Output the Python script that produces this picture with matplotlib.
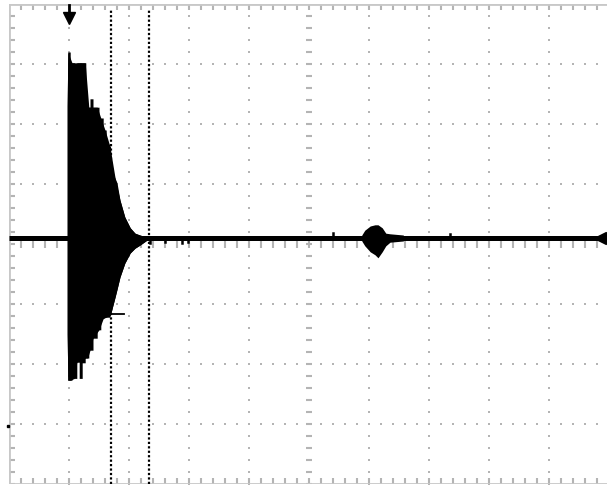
import numpy as np
import matplotlib
matplotlib.use('Agg')
from matplotlib import pyplot as plt
from matplotlib.collections import LineCollection

# screen: 10 x 8 divisions
n_xdiv = 10
n_ydiv = 8
baseline = 0.1          # trace offset (div)
trigger_pos = 1.0       # trigger marker (div)
cursor_a = 1.695        # time cursors (div)
cursor_b = 2.34
level_mark = -1.17      # level marker next to cursor a

# burst envelope, upper edge (div)
burst_up_x = [0.97, 0.98, 1.02, 1.02, 1.09, 1.09, 1.13, 1.13, 1.28, 1.28, 1.31, 1.31,
              1.35, 1.35, 1.40, 1.40, 1.50, 1.50, 1.57, 1.57, 1.62, 1.62, 1.69,
              1.71, 1.80, 1.85, 1.93, 2.02, 2.10, 2.18, 2.35]
burst_up_y = [2.30, 3.20, 3.20, 3.02, 3.02, 2.85, 2.85, 3.02, 3.02, 1.40, 1.40, 2.28,
              2.28, 2.42, 2.42, 2.28, 2.28, 2.10, 2.10, 1.90, 1.90, 1.72, 1.62,
              1.23, 1.02, 0.73, 0.45, 0.27, 0.18, 0.15, 0.10]
# burst envelope, lower edge (div)
burst_lo_x = [0.97, 0.98, 1.05, 1.05, 1.08, 1.08, 1.13, 1.13, 1.17, 1.17, 1.22, 1.22,
              1.27, 1.27, 1.33, 1.33, 1.40, 1.40, 1.47, 1.47, 1.53, 1.53, 1.60,
              1.68, 1.77, 1.85, 1.93, 2.02, 2.10, 2.18, 2.35]
burst_lo_y = [-1.50, -2.27, -2.27, -1.97, -1.97, -2.24, -2.24, -1.97, -1.97, -2.24,
              -2.24, -1.98, -1.98, -1.90, -1.90, -1.77, -1.77, -1.57, -1.57, -1.43,
              -1.43, -1.27, -1.22, -1.22, -0.88, -0.55, -0.32, -0.15, -0.07, -0.02, 0.10]

# echo blob near 6.2 div
echo_x = [5.88, 5.93, 6.02, 6.10, 6.15, 6.22, 6.28, 6.35, 6.57, 6.60]
echo_up = [0.15, 0.23, 0.30, 0.32, 0.32, 0.27, 0.18, 0.17, 0.15, 0.10]
echo_lo = [0.05, -0.03, -0.13, -0.18, -0.23, -0.13, -0.03, 0.03, 0.05, 0.10]

# small spikes on the trace: position, excursion
blip_x = [2.35, 2.60, 2.88, 2.98, 5.40, 7.35]
blip_h = [-0.08, -0.07, -0.08, -0.07, 0.08, 0.06]

fig = plt.figure(figsize=(6.07, 4.86), dpi=100)
ax = fig.add_axes([9 / 607, 2 / 486, 600 / 607, 480 / 486])
ax.set_xlim(0, n_xdiv)
ax.set_ylim(-n_ydiv / 2, n_ydiv / 2)
ax.axis('off')

grid_c = '#b4b4b4'
minor = np.arange(0, n_xdiv + 0.01, 0.2)
minor_y = np.arange(-n_ydiv / 2, n_ydiv / 2 + 0.01, 0.2)

# dotted graticule
gx, gy = [], []
for xv in range(1, n_xdiv):
    if xv == 5:
        continue
    gx += [xv] * len(minor_y)
    gy += list(minor_y)
for yv in range(-3, 4):
    if yv == 0:
        continue
    gx += list(minor)
    gy += [yv] * len(minor)
ax.scatter(gx, gy, s=2.2, marker='s', color=grid_c, linewidths=0, zorder=1)

# border and tick marks
segs = []
for xv in minor:
    segs.append([(xv, 4), (xv, 3.9)])
    segs.append([(xv, -4), (xv, -3.9)])
    segs.append([(xv, -0.07), (xv, 0.07)])
for yv in minor_y:
    segs.append([(0, yv), (0.1, yv)])
    segs.append([(4.95, yv), (5.05, yv)])
ax.add_collection(LineCollection(segs, colors=grid_c, linewidths=1.5, zorder=1))
ax.plot([0, 0], [-4, 4], color='#c8c8c8', lw=2, zorder=1)
ax.plot([0, 10], [4, 4], color='#c8c8c8', lw=2, zorder=1)
ax.plot([0, 10], [-4, -4], color='#c8c8c8', lw=2, zorder=1)

# trace
ax.plot([0, n_xdiv], [baseline, baseline], color='black', lw=3.6,
        solid_capstyle='butt', zorder=3)
ax.fill_between(burst_up_x, burst_up_y, np.interp(burst_up_x, burst_lo_x, burst_lo_y),
                color='black', lw=0, zorder=3)
ax.fill_between(burst_lo_x, np.interp(burst_lo_x, burst_up_x, burst_up_y), burst_lo_y,
                color='black', lw=0, zorder=3)
ax.fill_between(echo_x, echo_up, echo_lo, color='black', lw=0, zorder=3)
for bx, bh in zip(blip_x, blip_h):
    ax.plot([bx, bx], [baseline, baseline + bh], color='black', lw=1.8, zorder=3)

# cursors
for cx in (cursor_a, cursor_b):
    ax.plot([cx, cx], [-4, 3.9], color='black', lw=1.6, ls=(0, (1, 1)), zorder=4)
ax.plot([cursor_a, cursor_a + 0.22], [level_mark, level_mark], color='black', lw=1.3, zorder=4)

# trigger and level markers
ax.plot([trigger_pos, trigger_pos], [3.98, 3.85], color='black', lw=2, zorder=5)
ax.plot(trigger_pos, 3.76, marker='v', ms=8, color='black', clip_on=False, zorder=5)
ax.plot(9.85, baseline, marker='<', ms=9, color='black', clip_on=False, zorder=5)
ax.plot(-0.01, -3.03, marker='s', ms=1.5, color='black', clip_on=False, zorder=5)

fig.savefig('out.png', dpi=100, facecolor='white')
